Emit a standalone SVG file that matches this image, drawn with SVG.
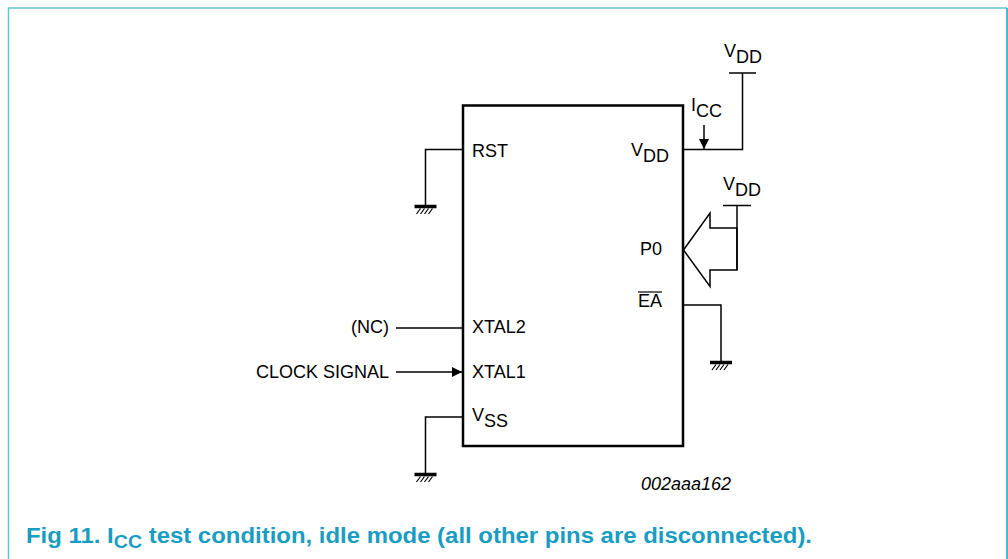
<svg xmlns="http://www.w3.org/2000/svg" width="1008" height="559" viewBox="0 0 1008 559">
<style>
.t{font-family:"Liberation Sans",Arial,sans-serif;font-size:18px;fill:#000}
.w{fill:none;stroke:#000;stroke-width:1.5}
.bar{stroke:#000;stroke-width:3.5}
.h{stroke:#000;stroke-width:1.2}
.cap{font-family:"Liberation Sans",Arial,sans-serif;font-size:22px;font-weight:bold;fill:#1a9dc2}
</style>
<defs>
<g id="gnd">
<line class="bar" x1="-11" y1="0" x2="11" y2="0"/>
<line class="h" x1="-5" y1="2" x2="-9" y2="7.5"/>
<line class="h" x1="-1" y1="2" x2="-5" y2="7.5"/>
<line class="h" x1="3" y1="2" x2="-1" y2="7.5"/>
<line class="h" x1="7" y1="2" x2="3" y2="7.5"/>
</g>
<marker id="ah" markerWidth="11" markerHeight="10" refX="10" refY="5" orient="auto" markerUnits="userSpaceOnUse">
<path d="M0,0 L10,5 L0,10 Z" fill="#000"/>
</marker>
</defs>
<rect width="1008" height="559" fill="#fff"/>
<g id="frame">
<line x1="8.5" y1="8" x2="8.5" y2="559" stroke="#5cc6de" stroke-width="1.5"/>
<line x1="8" y1="8" x2="1007" y2="8" stroke="#5cc6de" stroke-width="1.5"/>
<line x1="1007" y1="8" x2="1007" y2="559" stroke="#1a9fc4" stroke-width="1.5"/>
</g>
<g id="chip">
<rect x="463" y="105.5" width="220" height="340.5" fill="none" stroke="#000" stroke-width="2.5"/>
<text class="t" x="472" y="157">RST</text>
<text class="t" x="631" y="156">V<tspan dy="6">DD</tspan></text>
<text class="t" x="640" y="255">P0</text>
<text class="t" x="638" y="307">EA</text>
<line x1="638" y1="292" x2="662" y2="292" stroke="#000" stroke-width="1.2"/>
<text class="t" x="472" y="333">XTAL2</text>
<text class="t" x="472" y="378">XTAL1</text>
<text class="t" x="472" y="421">V<tspan dy="6">SS</tspan></text>
</g>
<g id="vdd-top">
<line class="w" x1="729" y1="73" x2="756" y2="73"/>
<text class="t" x="724" y="57">V<tspan dy="6">DD</tspan></text>
</g>
<g id="icc">
<text class="t" x="691" y="111">I<tspan dy="6">CC</tspan></text>
</g>
<g id="vdd-p0">
<line class="w" x1="723" y1="205.5" x2="751" y2="205.5"/>
<text class="t" x="723" y="190">V<tspan dy="6">DD</tspan></text>
</g>
<g id="gnd-rst"><use href="#gnd" x="425.5" y="206.5"/></g>
<g id="gnd-ea"><use href="#gnd" x="721" y="362.5"/></g>
<g id="gnd-vss"><use href="#gnd" x="425.5" y="474.5"/></g>
<g id="nc"><text class="t" x="389" y="333" text-anchor="end">(NC)</text></g>
<g id="clock"><text class="t" x="389" y="378" text-anchor="end">CLOCK SIGNAL</text></g>
<g id="connectors">
<polyline class="w" points="463,149.5 425.5,149.5 425.5,206"/>
<polyline class="w" points="683,149.5 742.5,149.5 742.5,73"/>
<line class="w" x1="704" y1="125" x2="704" y2="149" marker-end="url(#ah)"/>
<polyline class="w" points="737,205.5 737,270"/>
<polygon class="w" points="683.5,250 710,213 710,228 737,228 737,270 710,270 710,286.5"/>
<polyline class="w" points="683,305 721,305 721,362"/>
<line class="w" x1="396" y1="328" x2="463" y2="328"/>
<line class="w" x1="396" y1="372" x2="462" y2="372" marker-end="url(#ah)"/>
<polyline class="w" points="463,417 425.5,417 425.5,474"/>
</g>
<text class="t" x="641" y="490" font-style="italic">002aaa162</text>
<text class="cap" x="26" y="543" textLength="786" lengthAdjust="spacingAndGlyphs">Fig 11. I<tspan dy="5" font-size="18px">CC</tspan><tspan dy="-5"> test condition, idle mode (all other pins are disconnected).</tspan></text>
</svg>
